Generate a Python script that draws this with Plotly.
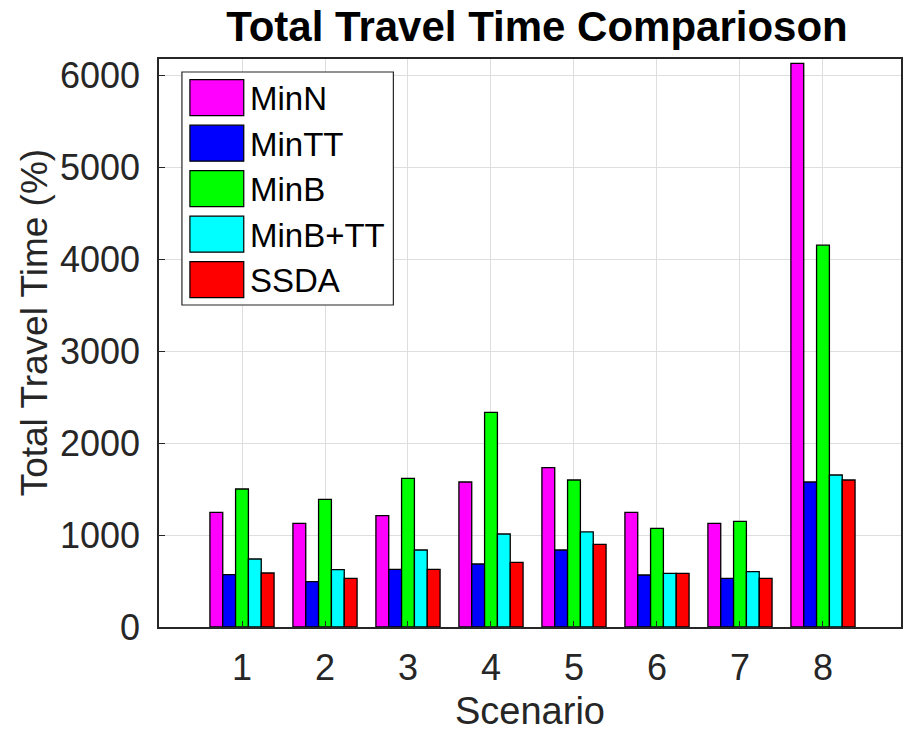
import plotly.graph_objects as go

# Scenario numbers and total travel time (%) for each method
scenarios = [1, 2, 3, 4, 5, 6, 7, 8]
series_names = ["MinN", "MinTT", "MinB", "MinB+TT", "SSDA"]
min_n = [1247, 1127, 1210, 1576, 1732, 1247, 1127, 6127]
min_tt = [569, 493, 627, 685, 837, 565, 529, 1576]
min_b = [1500, 1388, 1616, 2333, 1598, 1072, 1149, 4150]
min_b_tt = [739, 623, 837, 1011, 1033, 583, 601, 1652]
ssda = [587, 529, 627, 703, 899, 583, 529, 1598]
y_ticks = [0, 1000, 2000, 3000, 4000, 5000, 6000]

series_values = [min_n, min_tt, min_b, min_b_tt, ssda]
colors = ["#FF00FF", "#0000FF", "#00FF00", "#00FFFF", "#FF0000"]

W, H = 903, 738
ML, MR, MT, MB = 159, 0, 59, 111
PW, PH = W - ML - MR, H - MT - MB
FONT = "Liberation Sans, Arial, sans-serif"
INK = "#262626"

fig = go.Figure()
for name, vals, col in zip(series_names, series_values, colors):
    fig.add_trace(go.Bar(
        x=scenarios, y=vals, name=name, showlegend=False,
        marker=dict(color=col, line=dict(color="black", width=1.3)),
    ))

# pixel -> paper helpers for the boxed legend and the axis title
def px_x(px):
    return (px - ML) / PW

def px_y(py):
    return (H - MB - py) / PH

shapes = [dict(type="rect", xref="paper", yref="paper",
               x0=px_x(182), x1=px_x(394), y0=px_y(305), y1=px_y(72),
               line=dict(color=INK, width=1.2), fillcolor="white", layer="above")]
annotations = []
row_top, row_step = 97.7, 45.5
for i, (name, col) in enumerate(zip(series_names, colors)):
    cy = row_top + i * row_step
    shapes.append(dict(type="rect", xref="paper", yref="paper",
                       x0=px_x(190), x1=px_x(244), y0=px_y(cy + 18), y1=px_y(cy - 18),
                       line=dict(color="black", width=1.2), fillcolor=col, layer="above"))
    annotations.append(dict(xref="paper", yref="paper", x=px_x(248), y=px_y(cy + 1),
                            xanchor="left", yanchor="middle", showarrow=False,
                            text=name, font=dict(family=FONT, size=33, color="black")))

# y-axis title
annotations.append(dict(xref="paper", yref="paper", x=px_x(34), y=px_y(323),
                        xanchor="center", yanchor="middle", showarrow=False,
                        textangle=-90, text="Total Travel Time (%)",
                        font=dict(family=FONT, size=37, color=INK)))

fig.update_layout(
    width=W, height=H,
    margin=dict(l=ML, r=MR, t=MT, b=MB),
    paper_bgcolor="white", plot_bgcolor="white",
    barmode="group", bargap=0.227, bargroupgap=0,
    title=dict(text="<b>Total Travel Time Comparioson</b>",
               x=px_x(538), xref="paper", xanchor="center",
               y=1 - 26 / H, yref="container", yanchor="middle",
               font=dict(family=FONT, size=42, color="black")),
    xaxis=dict(range=[0, 8.94], tickvals=scenarios, ticktext=[str(s) for s in scenarios],
               showgrid=True, gridcolor="#dedede", gridwidth=1,
               showline=True, linecolor=INK, linewidth=1.5, mirror=True,
               ticks="inside", ticklen=6, tickcolor=INK, zeroline=False,
               ticklabelstandoff=8,
               tickfont=dict(family=FONT, size=36, color=INK),
               title=dict(text="Scenario", standoff=10,
                          font=dict(family=FONT, size=38, color=INK))),
    yaxis=dict(range=[0, 6174], tickvals=y_ticks,
               showgrid=True, gridcolor="#dedede", gridwidth=1,
               showline=True, linecolor=INK, linewidth=1.5, mirror=True,
               ticks="inside", ticklen=6, tickcolor=INK, zeroline=False,
               ticklabelstandoff=10,
               tickfont=dict(family=FONT, size=36, color=INK)),
    shapes=shapes, annotations=annotations,
)

fig.write_html("out.html")
